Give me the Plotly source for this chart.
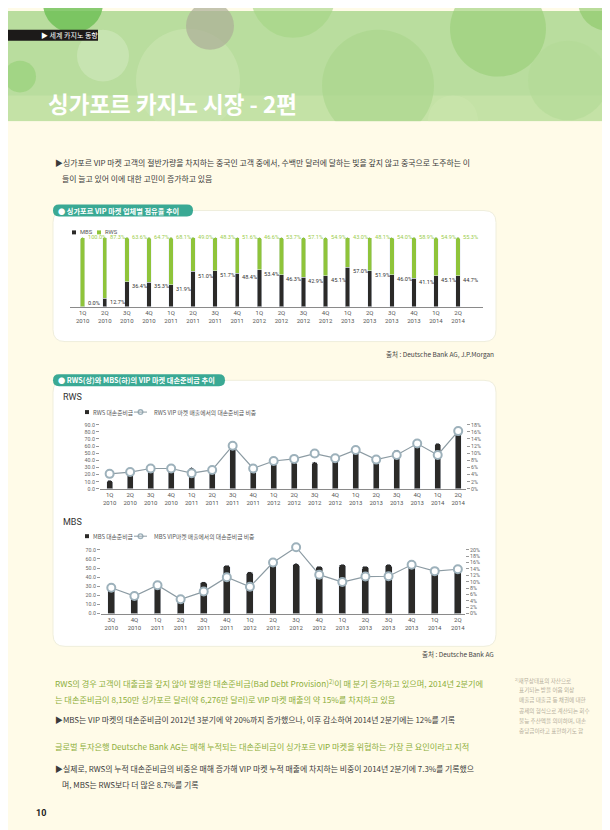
import plotly.graph_objects as go

W, H = 610, 830
KR = "Noto Sans CJK KR, Noto Sans, sans-serif"
NUM = "Roboto, Noto Sans, sans-serif"

# ---------------- data ----------------
quarters = ["1Q", "2Q", "3Q", "4Q", "1Q", "2Q", "3Q", "4Q", "1Q", "2Q", "3Q", "4Q",
            "1Q", "2Q", "3Q", "4Q", "1Q", "2Q"]
years = ["2010"] * 4 + ["2011"] * 4 + ["2012"] * 4 + ["2013"] * 4 + ["2014"] * 2
categories = [f"{q}<br>{y}" for q, y in zip(quarters, years)]

share_mbs = [0.0, 12.7, 36.4, 35.3, 31.9, 51.0, 51.7, 48.4, 53.4, 46.3, 42.9, 45.1,
             57.0, 51.9, 46.0, 41.1, 45.1, 44.7]
share_rws = [100.0, 87.3, 63.6, 64.7, 68.1, 49.0, 48.3, 51.6, 46.6, 53.7, 57.1, 54.9,
             43.0, 48.1, 54.0, 58.9, 54.9, 55.3]

rws_provision = [12, 29, 30, 33, 30, 26, 59, 26, 37, 38, 38, 49, 53, 38, 55, 63, 64, 86]
rws_ratio = [4.2, 4.7, 5.7, 5.7, 4.4, 5.3, 12.1, 5.7, 7.8, 8.4, 9.9, 8.6, 10.9, 8.2,
             9.5, 12.7, 9.5, 16.2]

mbs_categories = categories[2:]
mbs_provision = [29, 20, 32, 16, 35, 53, 46, 55, 55, 52, 54, 52, 54, 53, 51, 50]
mbs_ratio = [8.1, 5.5, 8.9, 4.5, 6.9, 11.4, 8.4, 16.0, 20.8, 12.2, 9.9, 11.6, 11.7,
             15.3, 13.3, 13.9]

rws_left_ticks = [0, 10, 20, 30, 40, 50, 60, 70, 80, 90]
rws_right_ticks = [0, 2, 4, 6, 8, 10, 12, 14, 16, 18]
mbs_left_ticks = [0, 10, 20, 30, 40, 50, 60, 70]
mbs_right_ticks = [0, 2, 4, 6, 8, 10, 12, 14, 16, 18, 20]

# ---------------- helpers ----------------
def X(p):
    return p / W


def Y(p):
    return 1 - p / H


def rrect(x0, y0, x1, y1, r):
    def P(a, b):
        return f"{X(a):.5f},{Y(b):.5f}"
    return (f"M{P(x0 + r, y0)} L{P(x1 - r, y0)} Q{P(x1, y0)} {P(x1, y0 + r)} "
            f"L{P(x1, y1 - r)} Q{P(x1, y1)} {P(x1 - r, y1)} L{P(x0 + r, y1)} "
            f"Q{P(x0, y1)} {P(x0, y1 - r)} L{P(x0, y0 + r)} Q{P(x0, y0)} {P(x0 + r, y0)} Z")


shapes = []
annotations = []


def rect(x0, y0, x1, y1, color, line=None):
    shapes.append(dict(type="rect", xref="paper", yref="paper", x0=X(x0), x1=X(x1),
                       y0=Y(y1), y1=Y(y0), fillcolor=color, layer="below",
                       line=dict(width=0) if line is None else line))


def circle(cx, cy, r, color, opacity=1.0):
    shapes.append(dict(type="circle", xref="paper", yref="paper", x0=X(cx - r), x1=X(cx + r),
                       y0=Y(cy + r), y1=Y(cy - r), fillcolor=color, opacity=opacity,
                       layer="below", line=dict(width=0)))


def path(d, fill, line=None):
    shapes.append(dict(type="path", xref="paper", yref="paper", path=d, fillcolor=fill,
                       layer="below", line=dict(width=0) if line is None else line))


def text(x, y, t, size, color, xanchor="left", bold=False, family=KR, yanchor="middle"):
    if bold:
        t = f"<b>{t}</b>"
    annotations.append(dict(x=X(x), y=Y(y), xref="paper", yref="paper", text=t,
                            showarrow=False, xanchor=xanchor, yanchor=yanchor,
                            font=dict(size=size, color=color, family=family)))


# ---------------- page background ----------------
rect(0, 0, W, H, "#fffbe8")
# header bokeh
rect(0, 0, W, 111, "#b9dd9e")
rect(0, 85, W, 111, "#c4e2a6")
circle(180, 70, 52, "#cbe6b2", 0.6)
circle(65, -8, 30, "#6cbf52", 0.8)
circle(12, 66, 16, "#98d27a", 0.7)
circle(95, 45, 26, "#d6ebc3", 0.5)
circle(202, 15, 24, "#adae97", 0.7)
circle(285, -15, 42, "#a3d583", 0.6)
circle(370, 75, 56, "#a8d68a", 0.6)
circle(490, 18, 48, "#98cf76", 0.6)
circle(560, 70, 40, "#b3db96", 0.6)
circle(445, 110, 25, "#cbe6ae", 0.6)
circle(600, -10, 30, "#8ac866", 0.6)
rect(0, 111, W, H, "#fffbe8")
# tag bar
rect(0, 19, 90, 30, "#1c1a19")
text(31, 24.5, "▶ 세계 카지노 동향", 7, "#ffffff")
# main title
text(38, 93, "싱가포르 카지노 시장 - 2편", 22.5, "#ffffff", bold=True)

# intro
text(45, 153, "▶싱가포르 VIP 마켓 고객의 절반가량을 차지하는 중국인 고객 중에서, 수백만 달러에 달하는 빚을 갚지 않고 중국으로 도주하는 이",
     7.9, "#3a3a3a")
text(52, 169, "들이 늘고 있어 이에 대한 고민이 증가하고 있음", 7.9, "#3a3a3a")

# chart boxes
path(rrect(45, 201, 488, 333, 12), "#ffffff", dict(color="#efeedc", width=1))
path(rrect(45, 372, 488, 640, 12), "#ffffff", dict(color="#efeedc", width=1))
# pills
TEAL = "#3aa994"
path(rrect(45, 195, 185, 207, 6), TEAL)
path(rrect(45, 366, 217, 378, 6), TEAL)
text(48, 201, "● 싱가포르 VIP 마켓 업체별 점유율 추이", 7.2, "#ffffff", bold=True)
text(48, 372, "● RWS(상)와 MBS(하)의 VIP 마켓 대손준비금 추이", 7.2, "#ffffff", bold=True)

GREEN = "#8fc43a"
DARK = "#2b2a28"
LINEC = "#8c9ba3"
MARKC = "#9db1bb"

# chart 1 legend
rect(64, 221, 68, 225, DARK)
text(70, 223, "MBS", 5.8, "#555", family=NUM)
rect(89, 221, 93, 225, GREEN)
text(95, 223, "RWS", 5.8, "#555", family=NUM)

# chart 1 labels
for i, (m, r) in enumerate(zip(share_mbs, share_rws)):
    annotations.append(dict(x=i, y=100, xref="x", yref="y", text=f"{r:.1f}%", showarrow=False,
                            xanchor="left", yanchor="middle", xshift=3,
                            font=dict(size=5.6, color="#9ccd4c", family=NUM)))
    annotations.append(dict(x=i, y=max(m - 6, 6), xref="x", yref="y", text=f"{m:.1f}%",
                            showarrow=False, xanchor="left", yanchor="middle", xshift=3,
                            font=dict(size=5.6, color="#333", family=NUM)))

text(488, 346, "출처 : Deutsche Bank AG, J.P.Morgan", 6.5, "#444", xanchor="right")

# chart 2 headings / legends
text(53, 389, "RWS", 9, "#333", family=NUM)
rect(77, 402, 81, 406, DARK)
text(83, 404, "RWS 대손준비금", 5.8, "#555")
shapes.append(dict(type="line", xref="paper", yref="paper", x0=X(126), x1=X(139), y0=Y(404), y1=Y(404),
                   line=dict(color=LINEC, width=1)))
circle(132.5, 404, 3, MARKC)
circle(132.5, 404, 1.6, "#ffffff")
text(144, 404, "RWS VIP 마켓 매출에서의 대손준비금 비중", 5.8, "#555")

text(53, 515, "MBS", 9, "#333", family=NUM)
rect(77, 527, 81, 531, DARK)
text(83, 529, "MBS 대손준비금", 5.8, "#555")
shapes.append(dict(type="line", xref="paper", yref="paper", x0=X(126), x1=X(139), y0=Y(529), y1=Y(529),
                   line=dict(color=LINEC, width=1)))
circle(132.5, 529, 3, MARKC)
circle(132.5, 529, 1.6, "#ffffff")
text(144, 529, "MBS VIP마켓 매출에서의 대손준비금 비중", 5.8, "#555")

text(488, 648, "출처 : Deutsche Bank AG", 6.5, "#444", xanchor="right")

# bottom text
GT = "#8cae3a"
text(45, 677, "RWS의 경우 고객이 대출금을 갚지 않아 발생한 대손준비금(Bad Debt Provision)<sup>2)</sup>이 매 분기 증가하고 있으며, 2014년 2분기에",
     8.2, GT)
text(45, 693, "는 대손준비금이 8,150만 싱가포르 달러(약 6,276만 달러)로 VIP 마켓 매출의 약 15%를 차지하고 있음", 8.2, GT)
text(45, 714, "▶MBS는 VIP 마켓의 대손준비금이 2012년 3분기에 약 20%까지 증가했으나, 이후 감소하여 2014년 2분기에는 12%를 기록",
     7.9, "#3a3a3a")
text(45, 740, "글로벌 투자은행 Deutsche Bank AG는 매해 누적되는 대손준비금이 싱가포르 VIP 마켓을 위협하는 가장 큰 요인이라고 지적",
     8.2, GT)
text(45, 763, "▶실제로, RWS의 누적 대손준비금의 비중은 매해 증가해 VIP 마켓 누적 매출에 차지하는 비중이 2014년 2분기에 7.3%를 기록했으",
     7.9, "#3a3a3a")
text(52, 779, "며, MBS는 RWS보다 더 많은 8.7%를 기록", 7.9, "#3a3a3a")

side = ["<sup>2)</sup>재무상태표의 자산으로", "표기되는 받을 어음 외상", "매출금 대출금 등 채권에 대한",
        "공제의 형식으로 계산되는 회수", "불능 추산액을 의미하며, 대손", "충당금이라고 표현하기도 함"]
for k, s in enumerate(side):
    text(505 if k == 0 else 509, 674 + k * 10.2, s, 5.6, "#b5ae9c")

text(26, 808, "10", 9, "#222", bold=True, family=NUM)

# ---------------- traces ----------------
fig = go.Figure()
fig.add_trace(go.Bar(x=categories, y=share_mbs, marker=dict(color=DARK), width=0.2,
                     xaxis="x", yaxis="y", name="MBS"))
fig.add_trace(go.Bar(x=categories, y=share_rws, marker=dict(color=GREEN, cornerradius=2), width=0.2,
                     xaxis="x", yaxis="y", name="RWS"))

fig.add_trace(go.Bar(x=categories, y=rws_provision, marker=dict(color=DARK, cornerradius=3), width=0.29,
                     xaxis="x2", yaxis="y2", name="RWS 대손준비금"))
fig.add_trace(go.Scatter(x=categories, y=rws_ratio, mode="lines+markers", xaxis="x2", yaxis="y3",
                         line=dict(color=LINEC, width=1.2), cliponaxis=False,
                         marker=dict(size=8, color="#ffffff", line=dict(color=MARKC, width=2)),
                         name="RWS VIP 마켓 매출에서의 대손준비금 비중"))

fig.add_trace(go.Bar(x=mbs_categories, y=mbs_provision, marker=dict(color=DARK, cornerradius=3), width=0.3,
                     xaxis="x3", yaxis="y4", name="MBS 대손준비금"))
fig.add_trace(go.Scatter(x=mbs_categories, y=mbs_ratio, mode="lines+markers", xaxis="x3", yaxis="y5",
                         line=dict(color=LINEC, width=1.2), cliponaxis=False,
                         marker=dict(size=8, color="#ffffff", line=dict(color=MARKC, width=2)),
                         name="MBS VIP마켓 매출에서의 대손준비금 비중"))

xcommon = dict(type="category", showgrid=False, zeroline=False, showline=True, linecolor="#8a8a8a",
               linewidth=1, ticks="", tickfont=dict(size=6, color="#555", family=NUM), fixedrange=True)
ycommon = dict(showgrid=False, zeroline=False, showline=False, ticks="outside", ticklen=3,
               tickcolor="#999", tickwidth=0.8, tickfont=dict(size=5.3, color="#666", family=NUM),
               fixedrange=True)

# MBS axes: pixel frame 0 at y=607, top tick (70 / 20%) at y=542.7; extended by headroom
mbs_bottom, mbs_top = 607.0, 542.7
head = 10.0  # extra pixels of headroom so the 3Q2012 point is not clipped
ppu_left = (mbs_bottom - mbs_top) / 70.0
ppu_right = (mbs_bottom - mbs_top) / 20.0

fig.update_layout(
    width=W, height=H, margin=dict(l=0, r=0, t=0, b=0),
    paper_bgcolor="#fffbe8", plot_bgcolor="rgba(0,0,0,0)",
    showlegend=False, barmode="stack",
    shapes=shapes, annotations=annotations,
    xaxis=dict(xcommon, domain=[X(62), X(475)], range=[-0.575, 18.13], anchor="y"),
    yaxis=dict(domain=[Y(298), Y(228)], range=[0, 100], visible=False, anchor="x"),
    xaxis2=dict(xcommon, domain=[X(92), X(458)], range=[-0.47, 17.38], anchor="y2"),
    yaxis2=dict(ycommon, domain=[Y(481.3), Y(416.7)], range=[0, 90], tickvals=rws_left_ticks,
                ticktext=[f"{v:.1f}" for v in rws_left_ticks], anchor="x2"),
    yaxis3=dict(ycommon, overlaying="y2", side="right", range=[0, 18], tickvals=rws_right_ticks,
                ticktext=[f"{v}%" for v in rws_right_ticks], anchor="x2"),
    xaxis3=dict(xcommon, domain=[X(93), X(457)], range=[-0.446, 15.31], anchor="y4"),
    yaxis4=dict(ycommon, domain=[Y(mbs_bottom), Y(mbs_top - head)],
                range=[0, 70 + head / ppu_left], tickvals=mbs_left_ticks,
                ticktext=[f"{v:.1f}" for v in mbs_left_ticks], anchor="x3"),
    yaxis5=dict(ycommon, overlaying="y4", side="right", range=[0, 20 + head / ppu_right],
                tickvals=mbs_right_ticks, ticktext=[f"{v}%" for v in mbs_right_ticks], anchor="x3"),
)

fig.write_html("out.html")
